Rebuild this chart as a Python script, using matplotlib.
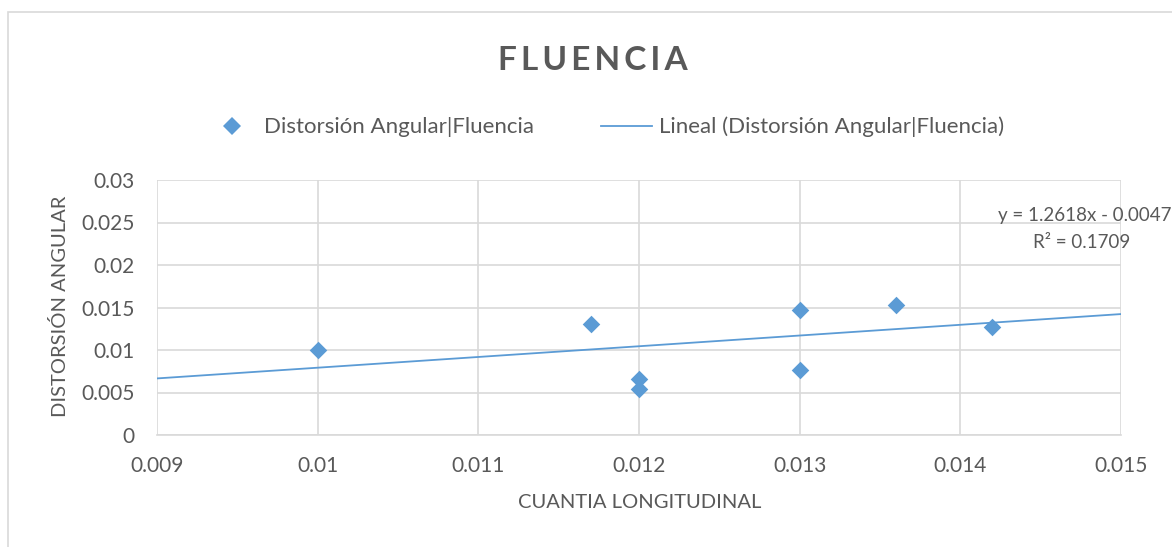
import matplotlib
matplotlib.use("Agg")
import matplotlib.pyplot as plt
from matplotlib.lines import Line2D
from matplotlib.patches import Rectangle
import numpy as np

plt.rcParams["font.family"] = ["Lato", "DejaVu Sans"]

# data
cuantia = [0.010, 0.0117, 0.012, 0.012, 0.013, 0.013, 0.0136, 0.0142]
distorsion = [0.0100, 0.0131, 0.0066, 0.0054, 0.0147, 0.0077, 0.0153, 0.0127]
slope, intercept, r2 = 1.2618, -0.0047, 0.1709

x_ticks = [0.009, 0.010, 0.011, 0.012, 0.013, 0.014, 0.015]
x_labels = ["0.009", "0.01", "0.011", "0.012", "0.013", "0.014", "0.015"]
y_ticks = [0, 0.005, 0.010, 0.015, 0.020, 0.025, 0.030]
y_labels = ["0", "0.005", "0.01", "0.015", "0.02", "0.025", "0.03"]

BLUE = "#5B9BD5"
TEXT = "#595959"
GRID = "#D9D9D9"

W, H = 1172, 547
fig = plt.figure(figsize=(W / 100, H / 100), dpi=100)
fig.patches.append(Rectangle((8 / W, -0.2), 1.3, 1.2 - 12 / H, transform=fig.transFigure,
                             fill=False, edgecolor=GRID, linewidth=1.2))

ax = fig.add_axes([157 / W, 1 - 435 / H, (1121 - 157) / W, (435 - 180) / H])
ax.scatter(cuantia, distorsion, marker="D", s=80, color=BLUE, zorder=3, linewidths=0)
xs = np.array([0.009, 0.015])
ax.plot(xs, slope * xs + intercept, color=BLUE, linewidth=1.3, zorder=2)

ax.set_xlim(0.009, 0.015)
ax.set_ylim(0, 0.03)
ax.set_xticks(x_ticks)
ax.set_xticklabels(x_labels)
ax.set_yticks(y_ticks)
ax.set_yticklabels(y_labels)
ax.tick_params(length=0, labelsize=15, colors=TEXT)
ax.tick_params(axis="y", pad=16)
ax.tick_params(axis="x", pad=15)
ax.grid(True, color=GRID, linewidth=1.2)
ax.set_axisbelow(True)
for side in ["top", "right", "left"]:
    ax.spines[side].set_visible(False)
ax.spines["bottom"].set_color(GRID)
ax.spines["bottom"].set_linewidth(1.2)

fig.text(640 / W, 1 - 503 / H, "CUANTIA LONGITUDINAL", ha="center", va="center",
         fontsize=14.5, color=TEXT)
fig.text(60 / W, 1 - 306 / H, "DISTORSIÓN ANGULAR", ha="center", va="center",
         rotation=90, fontsize=14.5, color=TEXT)

fig.text(593 / W, 1 - 60 / H, "F L U E N C I A".replace(" ", "\u2009"), ha="center", va="center",
         fontsize=24, fontweight="bold", color=TEXT)

handles = [
    Line2D([], [], marker="D", linestyle="none", color=BLUE, markersize=9, markeredgewidth=0),
    Line2D([], [], color=BLUE, linewidth=1.3),
]
fig.legend(handles, ["Distorsión Angular|Fluencia", "Lineal (Distorsión Angular|Fluencia)"],
           loc="center", bbox_to_anchor=(605 / W, 1 - 127 / H), ncol=2, frameon=False,
           fontsize=16, labelcolor=TEXT, columnspacing=3.0, handlelength=2.3, handletextpad=0.3)

fig.text(1172 / W, 1 - 215 / H, f"y = {slope}x - {abs(intercept)}", ha="right", va="center",
         fontsize=13.5, color=TEXT)
fig.text(1130 / W, 1 - 243 / H, f"R² = {r2}", ha="right", va="center", fontsize=13.5, color=TEXT)

fig.savefig("out.png", dpi=100)
